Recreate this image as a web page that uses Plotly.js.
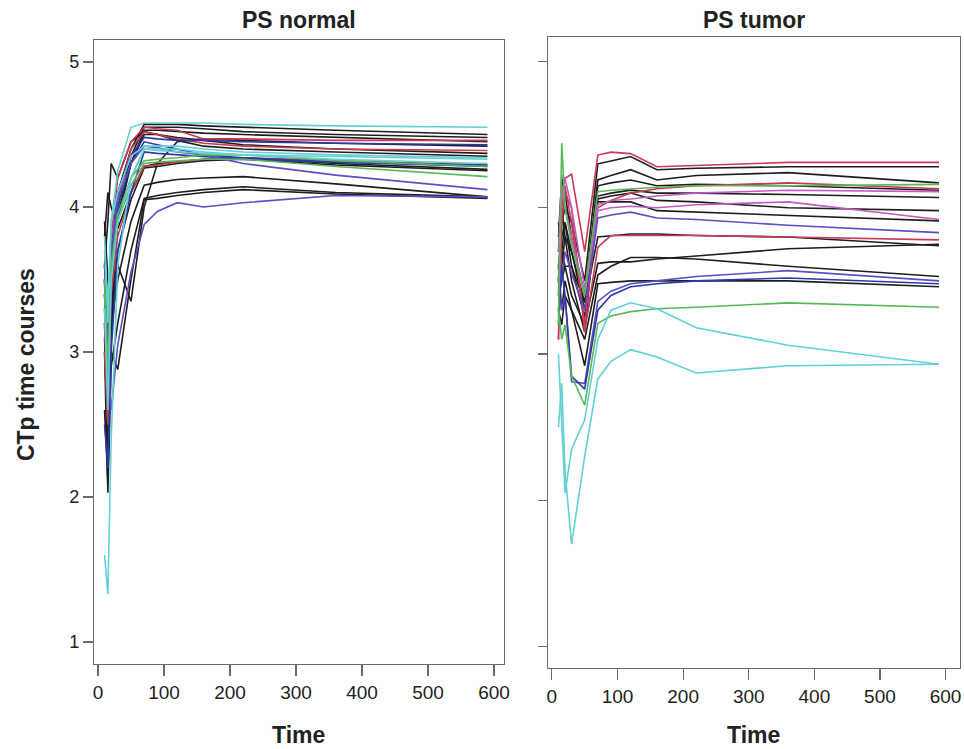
<!DOCTYPE html>
<html>
<head>
<meta charset="utf-8">
<script src="https://cdn.plot.ly/plotly-3.0.1.min.js"></script>
<style>
html,body{margin:0;padding:0;background:#fff;}
#chart{width:964px;height:749px;}
</style>
</head>
<body>
<div id="chart"></div>
<script>
// Time points (s)
const time = [10, 15, 20, 30, 50, 70, 90, 120, 160, 220, 360, 590];

// ---- PS normal curves ----
const n01 = [3.80, 3.20, 3.90, 4.25, 4.55, 4.58, 4.58, 4.58, 4.58, 4.57, 4.56, 4.55];
const n02 = [3.50, 2.90, 3.60, 4.10, 4.40, 4.57, 4.57, 4.57, 4.56, 4.55, 4.53, 4.50];
const n03 = [3.30, 2.60, 3.40, 4.00, 4.35, 4.55, 4.55, 4.55, 4.54, 4.52, 4.50, 4.48];
const n04 = [3.60, 3.00, 3.80, 4.20, 4.45, 4.55, 4.54, 4.53, 4.47, 4.47, 4.46, 4.46];
const n05 = [3.20, 2.40, 3.30, 3.95, 4.30, 4.53, 4.53, 4.52, 4.51, 4.50, 4.48, 4.45];
const n06 = [3.40, 2.80, 3.70, 4.10, 4.35, 4.48, 4.47, 4.46, 4.46, 4.45, 4.44, 4.43];
const n07 = [3.00, 2.50, 3.50, 4.05, 4.40, 4.52, 4.50, 4.47, 4.44, 4.42, 4.40, 4.39];
const n08 = [2.60, 2.10, 3.20, 3.90, 4.30, 4.50, 4.50, 4.48, 4.46, 4.43, 4.40, 4.37];
const n09 = [3.60, 3.90, 4.30, 4.20, 4.45, 4.52, 4.50, 4.46, 4.42, 4.40, 4.38, 4.35];
const n10 = [3.70, 3.30, 3.90, 4.10, 4.35, 4.42, 4.42, 4.42, 4.40, 4.38, 4.36, 4.34];
const n11 = [3.50, 2.70, 3.60, 4.00, 4.30, 4.45, 4.43, 4.40, 4.36, 4.34, 4.31, 4.28];
const n12 = [3.60, 3.10, 3.70, 4.05, 4.30, 4.42, 4.41, 4.38, 4.36, 4.30, 4.22, 4.12];
const n13 = [3.30, 2.60, 3.50, 3.90, 4.20, 4.40, 4.39, 4.38, 4.37, 4.36, 4.35, 4.33];
const n14 = [3.40, 2.80, 3.50, 3.90, 4.15, 4.30, 4.31, 4.32, 4.33, 4.33, 4.28, 4.21];
const n15 = [3.20, 2.50, 3.40, 3.80, 4.10, 4.28, 4.29, 4.31, 4.33, 4.34, 4.32, 4.29];
const n16 = [3.80, 4.10, 4.00, 3.85, 4.10, 4.28, 4.30, 4.31, 4.33, 4.34, 4.30, 4.26];
const n17 = [3.10, 2.30, 3.20, 3.70, 4.05, 4.27, 4.28, 4.30, 4.32, 4.33, 4.29, 4.25];
const n18 = [3.50, 2.90, 3.60, 3.95, 4.20, 4.32, 4.33, 4.34, 4.36, 4.36, 4.32, 4.28];
const n19 = [2.50, 2.20, 3.00, 3.70, 4.10, 4.38, 4.37, 4.36, 4.35, 4.33, 4.31, 4.29];
const n20 = [3.40, 2.90, 3.20, 3.50, 3.90, 4.15, 4.17, 4.19, 4.20, 4.21, 4.16, 4.07];
const n21 = [3.00, 2.03, 2.90, 3.20, 3.70, 4.06, 4.08, 4.10, 4.12, 4.14, 4.10, 4.07];
const n22 = [3.60, 3.20, 3.00, 2.88, 3.50, 4.05, 4.06, 4.08, 4.10, 4.12, 4.09, 4.06];
const n23 = [3.50, 2.90, 2.60, 3.05, 3.55, 3.88, 3.97, 4.03, 4.00, 4.03, 4.08, 4.07];
const n24 = [1.60, 1.33, 2.40, 3.60, 4.20, 4.40, 4.40, 4.40, 4.38, 4.36, 4.33, 4.30];
const n25 = [3.90, 3.50, 3.10, 3.60, 3.35, 4.00, 4.30, 4.45, 4.47, 4.46, 4.44, 4.42];

// ---- PS tumor curves ----
const t01 = [3.10, 4.10, 4.20, 4.23, 3.70, 4.36, 4.38, 4.37, 4.28, 4.29, 4.31, 4.31];
const t02 = [3.50, 3.90, 4.00, 3.90, 3.50, 4.30, 4.32, 4.35, 4.26, 4.27, 4.28, 4.28];
const t03 = [3.80, 4.20, 4.10, 3.80, 3.40, 4.19, 4.22, 4.26, 4.19, 4.22, 4.24, 4.17];
const t04 = [3.60, 3.80, 3.90, 3.70, 3.35, 4.15, 4.17, 4.19, 4.15, 4.16, 4.15, 4.12];
const t05 = [3.20, 4.44, 4.00, 3.75, 3.40, 4.11, 4.12, 4.13, 4.14, 4.15, 4.15, 4.16];
const t06 = [3.40, 4.00, 4.15, 3.90, 3.20, 4.00, 4.05, 4.10, 4.13, 4.15, 4.17, 4.13];
const t07 = [3.70, 4.22, 4.20, 4.00, 3.45, 4.02, 4.05, 4.06, 4.08, 4.10, 4.12, 4.11];
const t08 = [3.50, 4.15, 4.00, 3.80, 3.40, 3.98, 4.00, 4.01, 4.00, 4.02, 4.04, 3.92];
const t09 = [3.30, 3.60, 3.80, 3.70, 3.30, 4.04, 4.04, 4.04, 3.98, 3.97, 3.95, 3.91];
const t10 = [3.90, 3.70, 3.60, 3.60, 3.25, 4.06, 4.08, 4.10, 4.05, 4.04, 4.00, 3.98];
const t11 = [3.70, 4.00, 3.80, 3.50, 3.15, 4.08, 4.10, 4.12, 4.10, 4.10, 4.09, 4.07];
const t12 = [3.60, 3.50, 3.70, 3.55, 3.30, 3.93, 3.95, 3.97, 3.93, 3.92, 3.88, 3.83];
const t13 = [3.50, 3.70, 3.90, 3.60, 3.35, 3.80, 3.81, 3.82, 3.82, 3.81, 3.80, 3.74];
const t14 = [3.10, 3.90, 4.10, 4.00, 3.15, 3.73, 3.81, 3.81, 3.81, 3.81, 3.80, 3.78];
const t15 = [3.40, 3.50, 3.60, 3.40, 3.20, 3.62, 3.63, 3.63, 3.65, 3.67, 3.72, 3.75];
const t16 = [3.60, 3.30, 3.50, 3.30, 3.10, 3.54, 3.60, 3.66, 3.66, 3.65, 3.60, 3.53];
const t17 = [3.50, 3.30, 3.40, 2.81, 2.80, 3.36, 3.43, 3.48, 3.50, 3.53, 3.57, 3.50];
const t18 = [3.30, 3.20, 3.40, 3.30, 2.92, 3.48, 3.49, 3.50, 3.50, 3.50, 3.50, 3.46];
const t19 = [3.20, 3.60, 3.40, 2.85, 2.76, 3.30, 3.40, 3.46, 3.48, 3.50, 3.52, 3.48];
const t20 = [3.30, 3.10, 3.20, 2.85, 2.65, 3.21, 3.26, 3.29, 3.31, 3.32, 3.35, 3.32];
const t21 = [3.00, 2.50, 2.05, 2.35, 2.55, 3.10, 3.30, 3.35, 3.31, 3.18, 3.06, 2.93];
const t22 = [2.50, 2.80, 2.20, 1.70, 2.30, 2.83, 2.95, 3.03, 2.98, 2.87, 2.92, 2.93];

// Axis ticks
const xTicks = [0, 100, 200, 300, 400, 500, 600];
const yTicks = [1, 2, 3, 4, 5];

// Styles
const COL = {
  k: '#1e1e1e', r: '#c83a55', p: '#5a4fc6', c: '#62d0d4',
  g: '#58b858', m: '#c45ac4', b: '#2a3aa8'
};

const normalSet = [
  [n02,'k'],[n03,'k'],[n05,'k'],[n08,'k'],[n09,'k'],[n16,'k'],[n17,'k'],[n20,'k'],[n21,'k'],[n22,'k'],[n25,'k'],
  [n04,'r'],[n07,'r'],[n15,'r'],
  [n06,'b'],[n11,'b'],[n19,'b'],
  [n12,'p'],[n23,'p'],
  [n14,'g'],[n18,'g'],
  [n01,'c'],[n10,'c'],[n13,'c'],[n24,'c']
];
const tumorSet = [
  [t02,'k'],[t03,'k'],[t04,'k'],[t09,'k'],[t10,'k'],[t11,'k'],[t13,'k'],[t15,'k'],[t16,'k'],[t18,'k'],
  [t01,'r'],[t06,'r'],[t14,'r'],
  [t07,'m'],[t08,'m'],
  [t12,'p'],[t17,'p'],[t19,'b'],
  [t05,'g'],[t20,'g'],
  [t21,'c'],[t22,'c']
];

const traces = [];
normalSet.forEach(([y, c]) => traces.push({
  x: time, y: y, type: 'scatter', mode: 'lines', xaxis: 'x', yaxis: 'y',
  line: {color: COL[c], width: 1.6}, hoverinfo: 'skip', showlegend: false
}));
tumorSet.forEach(([y, c]) => traces.push({
  x: time, y: y, type: 'scatter', mode: 'lines', xaxis: 'x2', yaxis: 'y2',
  line: {color: COL[c], width: 1.6}, hoverinfo: 'skip', showlegend: false
}));

const axCommon = {
  showgrid: false, zeroline: false, showline: true, mirror: true,
  linecolor: '#6a6a6a', linewidth: 1.2,
  ticks: 'outside', tickcolor: '#6a6a6a', tickwidth: 1.2,
  ticklabeloverflow: 'allow'
};
const xFont = {family: '"Liberation Sans", Arial, sans-serif', size: 19, color: '#222'};
const yFont = {family: '"Liberation Sans", Arial, sans-serif', size: 18, color: '#222'};
const titleFont = {family: '"Liberation Sans", Arial, sans-serif', size: 23, color: '#222', weight: 'bold'};

const layout = {
  width: 964, height: 749,
  margin: {l: 94, r: 4, t: 37, b: 81},
  paper_bgcolor: '#fff', plot_bgcolor: '#fff',
  xaxis: Object.assign({}, axCommon, {
    domain: [0, 0.4734], range: [-6, 615],
    tickvals: xTicks, ticklen: 11, tickfont: xFont
  }),
  yaxis: Object.assign({}, axCommon, {
    domain: [0.0063, 0.9952], range: [0.848, 5.152],
    tickvals: yTicks, ticklen: 10, tickfont: yFont
  }),
  xaxis2: Object.assign({}, axCommon, {
    domain: [0.5242, 1], range: [-6, 622], anchor: 'y2',
    tickvals: xTicks, ticklen: 11, tickfont: xFont
  }),
  yaxis2: Object.assign({}, axCommon, {
    domain: [0, 1], range: [0.854, 5.167], anchor: 'x2',
    tickvals: yTicks, ticklen: 9, showticklabels: false
  }),
  annotations: [
    {text: 'PS normal', xref: 'paper', yref: 'paper', x: 0.2367, y: 1, yshift: 17,
     showarrow: false, font: titleFont, xanchor: 'center', yanchor: 'middle'},
    {text: 'PS tumor', xref: 'paper', yref: 'paper', x: 0.7621, y: 1, yshift: 17,
     showarrow: false, font: titleFont, xanchor: 'center', yanchor: 'middle'},
    {text: 'Time', xref: 'paper', yref: 'paper', x: 0.2367, y: 0, yshift: -67,
     showarrow: false, font: titleFont, xanchor: 'center', yanchor: 'middle'},
    {text: 'Time', xref: 'paper', yref: 'paper', x: 0.7621, y: 0, yshift: -67,
     showarrow: false, font: titleFont, xanchor: 'center', yanchor: 'middle'},
    {text: 'CTp time courses', xref: 'paper', yref: 'paper', x: 0, xshift: -68, y: 0.48,
     showarrow: false, textangle: -90,
     font: {family: '"Liberation Sans", Arial, sans-serif', size: 23, color: '#222', weight: 'bold'},
     xanchor: 'center', yanchor: 'middle'}
  ]
};

Plotly.newPlot('chart', traces, layout, {staticPlot: true, displayModeBar: false});
</script>
</body>
</html>
